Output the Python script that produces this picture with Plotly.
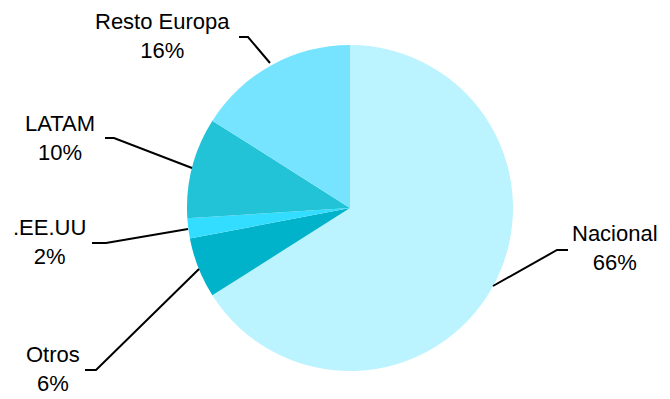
import plotly.graph_objects as go

labels = ["Nacional", "Otros", ".EE.UU", "LATAM", "Resto Europa"]
values = [66, 6, 2, 10, 16]
colors = ["#BBF3FF", "#00B3CA", "#33DDFF", "#22C3D7", "#77E4FF"]

W, H = 670, 399

def px(x, y):
    return x / W, 1 - y / H

# label block centers and leader paths (pixel coordinates)
label_pos = [(615, 248), (53, 369), (50, 242), (60, 138), (162, 36)]
leaders = [
    [(568, 250), (557, 250), (493, 286)],
    [(85, 370), (96, 370), (199, 269)],
    [(92, 243), (106, 243), (188, 229)],
    [(105, 138), (114, 138), (192, 168)],
    [(239, 37), (248, 37), (270, 63)],
]

cx, cy, r = 350, 208, 163
fig = go.Figure(go.Pie(
    labels=labels, values=values, sort=False, direction="clockwise", rotation=0,
    marker=dict(colors=colors, line=dict(width=0)),
    textinfo="none", hoverinfo="label+percent", showlegend=False,
    domain=dict(x=[(cx - r) / W, (cx + r) / W], y=[(H - cy - r) / H, (H - cy + r) / H]),
))

shapes = []
for pts in leaders:
    p = [px(*q) for q in pts]
    path = "M {} {}".format(*p[0]) + "".join(" L {} {}".format(*q) for q in p[1:])
    shapes.append(dict(type="path", xref="paper", yref="paper", path=path,
                       line=dict(color="black", width=2)))

annotations = []
for lab, v, (x, y) in zip(labels, values, label_pos):
    ax, ay = px(x, y)
    annotations.append(dict(x=ax, y=ay, xref="paper", yref="paper",
                            text=f"{lab}<br>{v}%", showarrow=False,
                            xanchor="center", yanchor="middle", align="center",
                            font=dict(family="Liberation Sans, Arial", size=22, color="black")))

fig.update_layout(width=W, height=H, margin=dict(l=0, r=0, t=0, b=0),
                  paper_bgcolor="white", plot_bgcolor="white",
                  shapes=shapes, annotations=annotations)
fig.write_html("out.html")
